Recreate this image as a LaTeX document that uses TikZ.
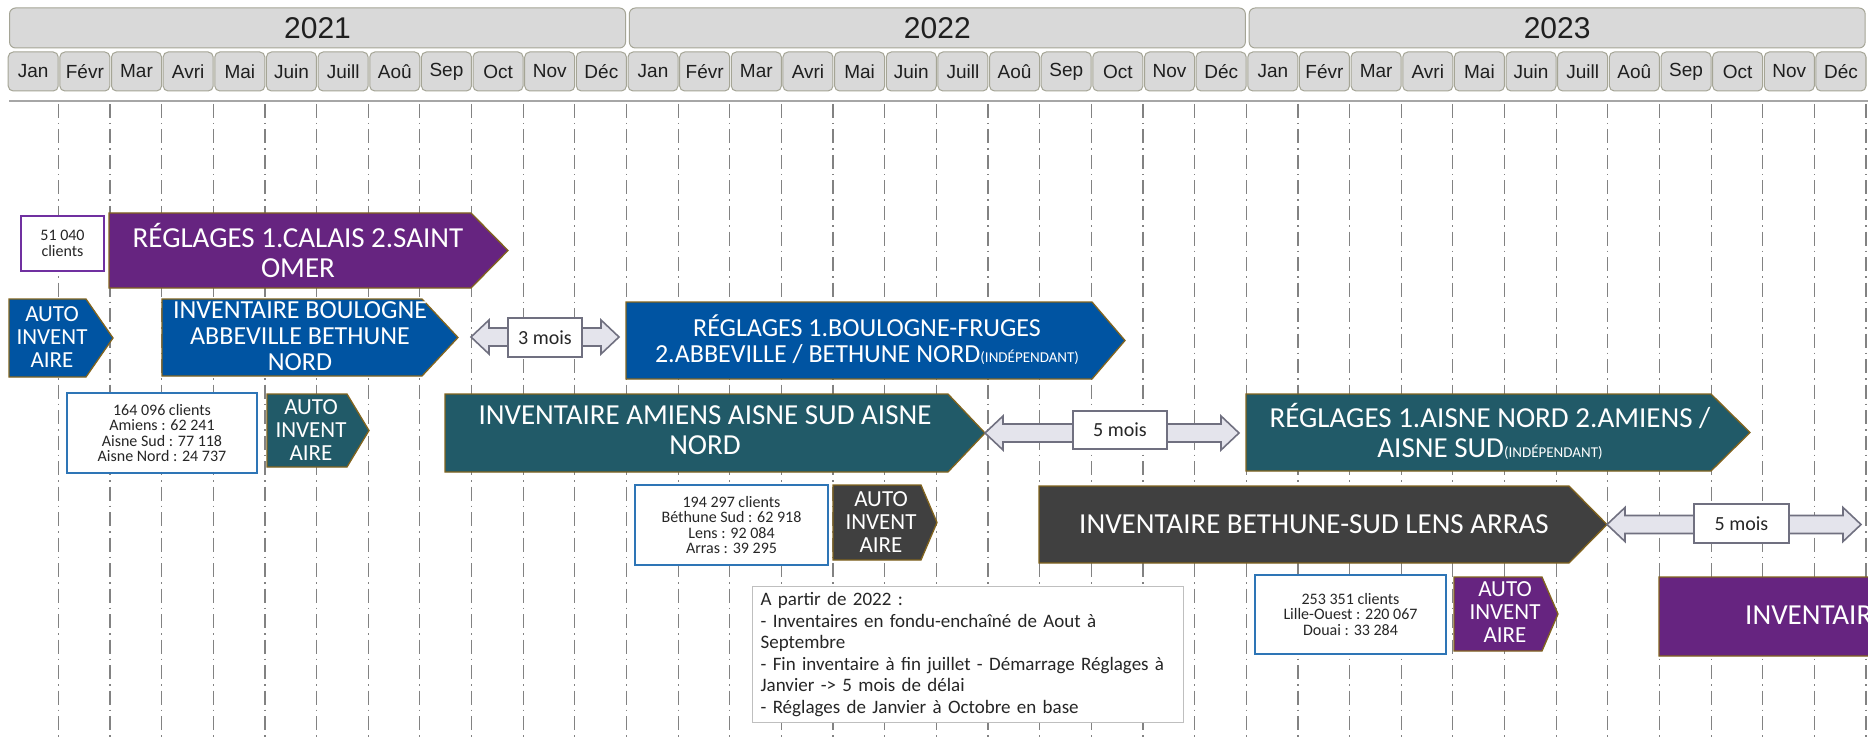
\documentclass[tikz,border=0pt]{standalone}
\usepackage{fontspec}
\setmainfont{Carlito}
\newfontfamily\hdrfont{Liberation Sans}
\usetikzlibrary{calc}
\definecolor{cPurple}{RGB}{102,36,128}
\definecolor{cBlue}{RGB}{0,84,162}
\definecolor{cTeal}{RGB}{33,90,104}
\definecolor{cDark}{RGB}{64,64,64}
\definecolor{cGold}{RGB}{130,100,30}
\definecolor{cHdrFill}{RGB}{217,217,217}
\definecolor{cHdrLine}{RGB}{165,165,150}
\definecolor{cGrid}{RGB}{130,130,130}
\definecolor{cArrFill}{RGB}{228,228,236}
\definecolor{cArrLine}{RGB}{112,112,128}
\definecolor{cBoxBlue}{RGB}{46,117,182}
\definecolor{cBoxPurple}{RGB}{112,48,160}
\definecolor{cNote}{RGB}{191,191,191}
\newcommand\chevshape[7]{%
  \filldraw[chevron, fill=#7] (#2,#5) -- (#3,#5) -- (#4,{(#5+#6)/2}) -- (#3,#6) -- (#2,#6) -- cycle;
  \coordinate (#1tip) at (#4,{(#5+#6)/2});}
\begin{document}
\begin{tikzpicture}[x=1pt,y=-1pt,
  yearbox/.style={draw=cHdrLine, fill=cHdrFill, rounded corners=6pt, line width=1pt, minimum width=616pt, minimum height=40pt, inner sep=0pt, text=black!88, font={\hdrfont\fontsize{30}{30}\selectfont}},
  monthbox/.style={draw=cHdrLine, fill=cHdrFill, rounded corners=5pt, line width=1pt, minimum width=50pt, minimum height=39pt, inner sep=0pt, text=black!88, font={\hdrfont\fontsize{19}{19}\selectfont}},
  gridline/.style={cGrid, line width=1.2pt, dash pattern=on 14pt off 5pt on 1.5pt off 5pt},
  chevron/.style={draw=cGold, line width=1.3pt},
  bigtxt/.style={text=white, align=center, inner sep=0pt, font={\fontsize{29}{30}\selectfont}},
  midtxt/.style={text=white, align=center, inner sep=0pt, font={\fontsize{26}{26}\selectfont}},
  autotxt/.style={text=white, align=center, inner sep=0pt, font={\fontsize{23}{23}\selectfont}},
  infobox/.style={draw=cBoxBlue, line width=1.5pt, fill=white, align=center, inner sep=0pt, text=black!85, font={\fontsize{16}{15.5}\selectfont}},
  gapbox/.style={draw=cArrLine, line width=1.3pt, fill=white, inner sep=0pt, text=black!85, font={\fontsize{20}{20}\selectfont}},
  notebox/.style={draw=cNote, line width=1.2pt, fill=white, align=left, inner xsep=8pt, inner ysep=0pt, text width=415pt, minimum height=136pt, text=black!85, font={\fontsize{19}{21.5}\selectfont}},
  dblarrow/.style={draw=cArrLine, fill=cArrFill, line width=1.6pt, line join=miter,
    to path={-- ($(\tikztostart)+(18,-17)$) -- ($(\tikztostart)+(18,-9)$) -- ($(\tikztotarget)+(-18,-9)$) -- ($(\tikztotarget)+(-18,-17)$) -- (\tikztotarget) -- ($(\tikztotarget)+(-18,17)$) -- ($(\tikztotarget)+(-18,9)$) -- ($(\tikztostart)+(18,9)$) -- ($(\tikztostart)+(18,17)$) -- cycle}},
  small/.style={font={\fontsize{15}{15}\selectfont}}
]
\useasboundingbox (0,0) rectangle (1868,738);
\clip (0,0) rectangle (1868,738);
\fill[white] (0,0) rectangle (1868,738);

% header
\foreach \yr/\ylab in {0/2021,1/2022,2/2023} {
  \node[yearbox] (y\ylab) at ({6.65+51.65*(12*\yr+6)+1}, 28) {\ylab};
  \foreach \m [count=\i from 0] in {Jan,Févr,Mar,Avri,Mai,Juin,Juill,Aoû,Sep,Oct,Nov,Déc} {
    \node[monthbox] (m\ylab-\i) at ({6.65+51.65*(12*\yr+\i+0.5)+0.75}, 71.5) {\m};
  }
}
\draw[line width=2pt, black!35] (9,101) -- (1868,101);

% grid
\foreach \k in {1,...,36} {
  \draw[gridline] ({6.65+51.65*\k},104) -- ({6.65+51.65*\k},738);
}

% chevrons
\chevshape{calais}{109}{471}{508}{213}{288}{cPurple}
\chevshape{autoA}{9}{86}{113}{299}{377}{cBlue}
\chevshape{boul}{162}{422}{458}{299}{376}{cBlue}
\chevshape{autoB}{267}{347}{369}{394}{467}{cTeal}
\chevshape{amiens}{445}{948}{985}{394}{472}{cTeal}
\chevshape{reglB}{626}{1092}{1125}{302}{379}{cBlue}
\chevshape{aisneR}{1246}{1711}{1750}{394}{471}{cTeal}
\chevshape{autoC}{833}{921}{937}{485}{560}{cDark}
\chevshape{beth}{1039}{1569}{1607}{486}{563}{cDark}
\chevshape{autoD}{1454}{1542}{1558}{577}{651}{cPurple}
\chevshape{invP}{1659}{1900}{1940}{577}{656}{cPurple}

% chevron texts
\node[bigtxt] (calais) at (298,250) {RÉGLAGES 1.CALAIS 2.SAINT\\OMER};
\node[autotxt] (autoA) at (52,337) {AUTO\\INVENT\\AIRE};
\node[midtxt] (boul) at (300,336) {INVENTAIRE BOULOGNE\\ABBEVILLE BETHUNE\\NORD};
\node[autotxt] (autoB) at (311,430) {AUTO\\INVENT\\AIRE};
\node[bigtxt] (amiens) at (705,430) {INVENTAIRE AMIENS AISNE SUD AISNE\\NORD};
\node[midtxt] (reglB) at (867,340) {RÉGLAGES 1.BOULOGNE-FRUGES\\2.ABBEVILLE / BETHUNE NORD{\fontsize{15}{15}\selectfont(INDÉPENDANT)}};
\node[bigtxt] (aisneR) at (1490,431) {RÉGLAGES 1.AISNE NORD 2.AMIENS /\\AISNE SUD{\fontsize{15}{15}\selectfont(INDÉPENDANT)}};
\node[autotxt] (autoC) at (881,522) {AUTO\\INVENT\\AIRE};
\node[bigtxt] (beth) at (1314,524) {INVENTAIRE BETHUNE-SUD LENS ARRAS};
\node[autotxt] (autoD) at (1505,612) {AUTO\\INVENT\\AIRE};
\node[bigtxt, anchor=west] (invP) at (1745,615) {INVENTAIRE};

% info boxes
\node[infobox, draw=cBoxPurple, minimum width=83pt, minimum height=55pt] (b51) at (62.5,243.5) {51 040\\clients};
\node[infobox, minimum width=190pt, minimum height=80pt] (b164) at (162,433) {164 096 clients\\Amiens : 62 241\\Aisne Sud : 77 118\\Aisne Nord : 24 737};
\node[infobox, minimum width=193pt, minimum height=80pt] (b194) at (731.5,525) {194 297 clients\\Béthune Sud : 62 918\\Lens : 92 084\\Arras : 39 295};
\node[infobox, minimum width=191pt, minimum height=79pt] (b253) at (1350.5,614.5) {253 351 clients\\Lille-Ouest : 220 067\\Douai : 33 284};

% note
\node[notebox, anchor=north west] (note) at (752,586) {A partir de 2022 :\\
- Inventaires en fondu-enchaîné de Aout à\\
Septembre\\
- Fin inventaire à fin juillet - Démarrage Réglages à\\
Janvier -> 5 mois de délai\\
- Réglages de Janvier à Octobre en base};

% gap arrows
\coordinate (g3s) at (471,337);
\coordinate (g3e) at (619,337);
\coordinate (g5ae) at (1239,433);
\coordinate (g5be) at (1861,524.5);
\draw[dblarrow] (g3s) to (g3e);
\draw[dblarrow] (amienstip) to (g5ae);
\draw[dblarrow] (bethtip) to (g5be);
\node[gapbox, minimum width=74pt, minimum height=39pt] (gap3) at (545,337.5) {3 mois};
\node[gapbox, minimum width=94pt, minimum height=38pt] (gap5a) at (1120,430) {5 mois};
\node[gapbox, minimum width=95pt, minimum height=39pt] (gap5b) at (1741.5,523.5) {5 mois};
\end{tikzpicture}
\end{document}
